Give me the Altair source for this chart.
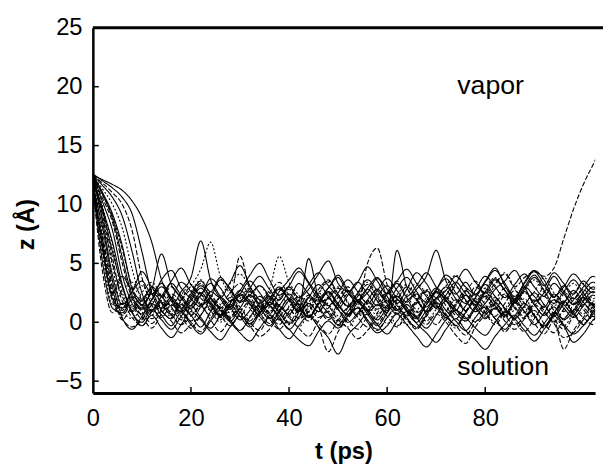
import altair as alt
import pandas as pd

# time grid (ps)
T = list(range(0, 106, 2))

# z (Å) trajectories
TRAJ = [
    [11.8, 5.0, 1.2, 0.8, 1.9, 1.2, 2.4, 1.0, 0.3, 1.5,
     0.6, -0.4, 0.9, 2.1, 1.3, 0.2, 1.0, 2.2, 1.4, 0.5,
     -0.6, 0.4, 1.6, 0.9, 2.0, 1.1, 0.0, 0.8, 1.9, 2.8,
     1.6, 0.7, 1.5, 0.4, -0.5, 0.6, 1.8, 1.0, 2.3, 1.4,
     0.3, 1.2, 0.5, 1.7, 2.6, 1.5, 0.6, 1.3, 0.2, 1.0,
     2.1, 1.4, 0.7],
    [11.5, 4.2, 0.8, 1.6, 0.4, -0.3, 0.9, 1.8, 0.6, -0.2,
     0.5, 1.4, 0.2, -0.8, 0.3, 1.1, 0.0, -0.7, 0.6, 1.5,
     0.4, -0.5, -1.2, 0.1, 0.9, -0.3, 0.5, 1.3, 0.2, -0.6,
     0.4, 1.2, 0.3, -0.4, 0.7, 1.6, 0.5, -0.3, -1.1, 0.0,
     0.8, 1.7, 0.6, -0.2, 0.4, 1.0, -0.1, -0.9, 0.2, 1.1,
     0.4, -0.2, 0.6],
    [12.0, 6.5, 2.0, 1.2, 2.5, 1.8, 3.0, 2.2, 1.4, 2.6,
     3.8, 6.9, 3.6, 2.0, 1.1, 2.3, 1.5, 0.6, 1.7, 2.8,
     1.9, 0.9, 2.1, 1.3, 0.4, 1.6, 2.7, 1.8, 1.0, 2.2,
     3.1, 2.0, 1.2, 0.5, 1.8, 2.9, 2.1, 1.1, 0.3, 1.4,
     2.5, 1.7, 0.8, 1.9, 3.0, 2.2, 1.3, 2.4, 1.5, 0.7,
     1.8, 2.6, 1.7],
    [12.2, 7.5, 2.8, 1.0, 0.3, 1.4, 2.6, 1.7, 0.9, 2.0,
     3.1, 4.5, 6.8, 3.9, 2.4, 1.3, 0.5, 1.6, 2.5, 1.4,
     0.6, -0.4, 0.8, 1.9, 1.0, 0.1, 1.2, 2.3, 1.5, 0.6,
     1.7, 0.8, -0.2, 0.9, 2.0, 1.2, 0.3, 1.5, 2.6, 1.8,
     0.9, 0.0, 1.1, 2.2, 1.3, 0.4, 1.5, 0.7, -0.3, 0.8,
     1.9, 1.0, 0.2],
    [11.0, 6.0, 1.8, 0.6, 1.5, 0.5, -0.5, 0.7, 1.8, 1.0,
     0.1, 1.3, 2.0, 1.1, 0.2, -0.7, 0.4, 1.5, 0.7, -0.2,
     0.9, 1.8, 0.8, -0.1, -1.0, 0.2, 1.2, 0.4, -0.4, 0.8,
     1.9, 1.1, 0.2, -0.6, 0.5, 1.4, 0.6, -0.3, 0.9, 2.0,
     1.2, 0.3, -0.8, 0.3, 1.3, 0.5, -0.5, 0.6, 1.7, 0.8,
     -0.1, 0.7, 1.6],
    [12.3, 8.5, 4.0, 1.5, 2.6, 3.5, 2.4, 3.3, 2.1, 1.2,
     2.4, 3.5, 2.6, 3.8, 2.7, 1.8, 2.9, 3.9, 2.8, 1.9,
     3.0, 2.1, 3.2, 4.2, 3.1, 2.2, 1.4, 2.5, 3.6, 2.7,
     1.8, 2.9, 3.8, 2.6, 1.7, 2.8, 3.7, 2.5, 1.6, 2.7,
     3.9, 3.0, 2.1, 3.2, 4.1, 3.0, 2.2, 3.3, 2.4, 1.5,
     2.6, 3.4, 2.5],
    [12.4, 9.0, 5.0, 2.2, 1.0, 2.1, 0.9, 1.9, 3.0, 2.0,
     1.1, 2.3, 1.3, 0.4, 1.6, 5.6, 2.8, 1.5, 0.7, 1.9,
     2.8, 1.6, 0.5, 1.7, 2.6, 1.5, 0.6, 1.8, 0.9, -0.1,
     1.1, 2.2, 1.3, 0.4, 1.5, 2.5, 1.4, 0.3, 1.4, 2.4,
     1.5, 0.5, 1.6, 2.7, 1.6, 0.6, -0.4, 0.7, 1.8, 0.9,
     2.0, 1.2, 0.4],
    [11.6, 8.0, 3.5, 0.4, -0.6, 0.5, 1.6, 0.6, -0.3, 0.8,
     -0.2, -1.0, 0.1, 1.0, 0.0, -0.9, -1.6, -0.5, 0.4, -0.6,
     -1.4, -0.3, 0.6, -0.4, -1.3, -2.7, -1.1, -0.2, 0.7, -0.2,
     -1.0, 0.1, 0.9, -0.1, -0.9, -1.7, -0.6, 0.3, -0.7, -1.5,
     -2.3, -1.2, -0.2, 0.6, -0.3, -1.1, -0.1, 0.8, -0.2, -1.0,
     -0.3, 0.5, -0.4],
    [12.5, 9.8, 6.5, 2.5, 1.3, 2.5, 3.4, 2.2, 1.1, 2.3,
     3.2, 2.1, 1.0, 2.2, 3.3, 4.1, 3.0, 1.9, 2.8, 5.6,
     3.4, 2.3, 1.4, 2.5, 3.5, 2.4, 1.3, 2.4, 3.4, 2.3,
     1.2, 2.3, 3.2, 2.1, 1.0, 2.0, 3.1, 4.0, 2.9, 1.8,
     2.9, 3.8, 2.7, 1.6, 2.7, 3.6, 2.5, 1.4, 2.4, 3.3,
     2.2, 1.3, 2.3],
    [12.0, 9.5, 6.0, 3.0, 0.8, 0.0, 1.1, 0.2, -0.6, 0.5,
     1.4, 0.4, -0.5, 0.6, 1.5, 0.5, -0.4, 0.7, 1.7, 0.8,
     -0.1, 0.9, 5.4, 2.0, 0.8, -0.2, 0.9, 1.8, 0.7, -0.3,
     0.8, 1.9, 0.9, 0.0, 1.0, 2.0, 1.0, 0.1, -0.7, 0.4,
     1.3, 0.3, -0.6, 0.5, 1.6, 0.6, -0.3, 0.8, 1.8, 0.7,
     -0.2, 0.9, 1.8],
    [10.8, 7.2, 3.0, 0.2, 1.2, 0.3, 1.5, 2.4, 1.3, 0.2,
     1.4, 2.5, 1.5, 0.6, 1.8, 0.8, -0.2, 1.0, 2.1, 1.1,
     0.0, 1.2, 2.3, 1.2, 0.2, 1.3, 2.4, 1.5, 5.0, 6.3,
     3.2, 1.6, 0.5, 1.6, 2.6, 1.5, 0.4, 1.6, 2.7, 1.7,
     0.7, 1.8, 2.9, 1.8, 0.8, 1.9, 1.0, 0.0, 1.1, 2.1,
     1.1, 0.2, 1.2],
    [12.5, 10.2, 7.8, 4.0, 1.6, 0.7, 1.9, 3.0, 2.0, 0.9,
     2.0, 3.1, 2.1, 1.0, 0.1, 1.2, 2.3, 1.3, 0.3, 1.4,
     2.4, 1.4, 0.4, 1.5, 2.6, 1.6, 0.6, 1.7, 2.8, 1.8,
     0.8, 6.1, 3.0, 1.9, 0.9, 2.0, 3.0, 2.0, 1.0, 2.1,
     3.2, 2.2, 1.2, 0.3, 1.4, 2.5, 1.5, 0.5, 1.6, 2.7,
     1.7, 0.8, -0.1],
    [12.3, 10.5, 8.5, 5.0, 2.0, 0.9, -0.1, 1.0, 2.1, 1.1,
     0.0, -0.8, 0.3, 1.3, 0.2, -0.7, 0.4, 1.4, 0.3, -0.6,
     0.5, 1.6, 0.6, -0.4, -2.5, -0.8, 0.3, 1.2, 0.2, -0.7,
     0.4, 1.4, 0.4, -0.5, 0.6, 1.7, 0.7, -0.3, 0.8, 1.8,
     0.8, -0.2, 0.9, 1.9, 0.9, -0.1, -1.0, 0.1, -2.3, -0.7,
     0.4, 1.3, 0.5],
    [12.5, 11.0, 9.2, 6.5, 2.8, 1.5, 2.8, 5.8, 3.2, 2.1,
     1.2, 2.3, 3.3, 2.2, 1.3, 2.4, 3.5, 2.5, 1.5, 2.6,
     3.6, 4.6, 3.4, 2.3, 1.4, 2.5, 3.6, 2.6, 1.6, 2.7,
     3.7, 2.7, 1.7, 2.8, 3.9, 6.1, 3.5, 2.4, 3.4, 2.3,
     3.4, 4.4, 3.3, 2.2, 3.3, 4.3, 3.2, 2.1, 3.1, 2.0,
     3.0, 3.9, 2.9],
    [12.4, 11.3, 10.0, 8.0, 4.5, 1.8, 0.6, 1.7, 0.7, -0.2,
     0.9, 2.0, 1.0, 0.0, 1.1, 2.2, 1.2, 0.2, 1.3, 2.3,
     1.3, 0.3, 1.4, 2.5, 1.5, 0.5, -0.4, 0.7, 1.7, 0.8,
     -0.1, 1.0, 2.0, 1.0, 0.1, 1.1, 2.1, 1.1, 0.1, 1.2,
     2.3, 1.3, 0.4, 1.5, 2.5, 1.5, 0.6, 1.6, 2.6, 1.6,
     0.7, 1.8, 0.9],
    [12.5, 11.6, 10.6, 9.0, 6.0, 2.5, 1.0, 2.2, 3.3, 2.3,
     1.4, 2.5, 1.5, 0.5, 1.6, 2.7, 1.8, 0.9, 2.0, 3.0,
     2.0, 1.0, 2.1, 3.2, 2.2, 1.2, 2.3, 3.4, 2.4, 1.4,
     2.5, 3.5, 4.5, 3.3, 2.2, 1.2, 2.3, 3.4, 2.4, 1.5,
     2.6, 3.7, 2.7, 1.7, 2.8, 3.8, 2.7, 1.6, 2.6, 3.6,
     2.5, 1.5, 2.6],
    [12.5, 11.8, 11.0, 10.0, 7.8, 3.8, 1.5, 0.4, 1.5, 0.5,
     -0.5, 0.6, 1.6, 0.6, -0.3, 0.8, 1.8, 0.8, -0.1, 1.0,
     2.0, 1.0, 0.1, 1.1, 2.1, 1.1, 0.2, -0.6, 0.5, 1.5,
     0.5, -0.4, 0.7, 1.7, 0.7, -0.2, 0.9, 1.9, 0.9, 0.0,
     1.0, 2.1, 1.1, 0.1, -0.8, 0.3, 1.3, 0.3, -0.6, 0.5,
     1.5, 0.6, -0.3],
    [12.6, 12.0, 11.4, 10.6, 9.2, 6.0, 2.5, 1.2, 2.0, 3.4,
     2.6, 1.5, 2.1, 3.6, 2.9, 1.7, 2.3, 3.1, 2.2, 1.0,
     1.9, 3.3, 2.4, 1.8, 2.9, 4.0, 2.7, 1.9, 2.5, 3.7,
     2.8, 1.6, 2.8, 4.2, 3.3, 2.1, 2.7, 3.9, 3.0, 2.4,
     3.5, 4.6, 3.1, 2.0, 3.4, 4.4, 3.6, 2.2, 3.0, 4.1,
     3.2, 2.5, 3.6],
    [12.5, 12.1, 11.7, 11.2, 10.3, 8.9, 6.8, 3.6, 1.8, 0.9,
     1.8, 2.9, 1.7, 0.6, 1.3, 2.4, 1.6, 0.5, -0.3, 0.9,
     2.0, 1.2, 0.4, 1.6, 2.5, 1.4, 0.7, 1.9, 1.1, 0.2,
     1.3, 2.2, 1.0, 0.3, 1.5, 2.6, 1.8, 0.8, 0.1, 1.2,
     2.2, 1.4, 0.6, 1.7, 0.9, -0.2, 0.8, 1.9, 1.2, 0.4,
     1.4, 2.3, 1.5],
    [11.3, 6.8, 2.5, 1.0, 2.2, 1.4, 0.3, 1.2, 2.4, 1.7,
     0.6, 1.5, 2.3, 1.1, 0.5, 1.7, 2.6, 1.9, 0.8, 0.2,
     1.3, 2.2, 1.5, 0.4, 1.2, 2.1, 3.0, 1.8, 0.9, 1.6,
     2.5, 1.4, 0.6, 1.8, 2.7, 1.5, 0.7, 1.4, 2.3, 1.2,
     0.4, 1.6, 2.4, 1.3, 0.5, 1.4, 2.2, 1.0, 0.3, 1.5,
     2.4, 1.6, 0.8],
    [12.1, 8.8, 4.8, 1.2, 2.0, 3.1, 1.9, 1.0, 2.2, 1.3,
     2.5, 3.6, 2.3, 1.5, 0.8, 2.0, 2.9, 1.8, 0.9, 2.1,
     3.0, 1.9, 1.1, 2.4, 3.4, 2.2, 1.3, 0.6, 1.7, 2.8,
     1.9, 1.0, 2.3, 3.3, 2.4, 1.2, 2.0, 3.0, 1.8, 0.9,
     1.9, 3.1, 4.2, 2.9, 1.7, 2.6, 3.8, 2.5, 1.4, 2.4,
     3.3, 2.0, 3.1],
    [11.9, 7.0, 2.2, 0.3, -0.4, 0.2, 1.4, 0.9, 0.1, -0.9,
     -0.2, 0.6, 1.8, 1.2, 0.4, 0.8, -0.3, -1.2, -0.6, 0.5,
     1.1, 0.3, 0.9, 2.0, 1.4, 0.2, -0.5, -1.4, -0.7, 0.4,
     1.5, 2.3, 1.0, 0.5, -0.2, 0.7, 0.0, -1.1, -1.8, -0.4,
     0.6, 1.2, 0.1, -0.6, 0.3, 1.5, 0.8, -0.1, -1.3, -0.9,
     0.2, 1.0, 0.4],
    [12.4, 10.8, 8.8, 5.5, 2.3, 1.1, 1.9, 3.6, 4.4, 2.9,
     2.0, 1.3, 2.6, 2.1, 3.4, 4.8, 3.1, 1.6, 2.2, 1.4,
     0.7, 1.9, 2.8, 4.1, 5.2, 3.3, 2.5, 1.7, 2.9, 3.8,
     2.2, 1.0, 1.8, 2.4, 1.3, 2.7, 4.0, 3.2, 1.9, 0.9,
     1.6, 2.8, 3.5, 4.4, 3.0, 1.8, 2.5, 3.9, 2.6, 1.5,
     2.2, 3.0, 2.0],
    [11.2, 5.6, 1.5, 2.7, 3.4, 2.0, 0.8, 1.5, 0.4, 1.9,
     3.0, 2.4, 1.0, 0.2, 1.3, 0.6, 1.9, 3.1, 2.0, 0.8,
     -0.2, 0.5, 1.6, 0.9, 2.2, 3.0, 1.7, 0.5, 1.2, 2.4,
     1.5, -0.3, 0.6, 1.9, 2.8, 1.4, 0.3, -0.5, 0.8, 2.1,
     2.9, 1.6, 0.4, 1.1, 2.0, 0.7, -0.4, 0.5, 1.6, 2.5,
     1.3, 0.6, 1.8],
    [12.3, 9.6, 6.8, 3.2, 0.9, -0.3, 0.6, -0.5, -1.3, -0.2,
     0.9, 0.2, -0.8, -1.5, -0.4, 0.5, -0.1, 0.8, 1.4, 0.3,
     -0.6, -1.5, -2.0, -0.8, 0.1, -0.5, 0.6, 1.2, 0.0, -0.9,
     -0.3, 0.7, -0.2, -1.2, -2.1, -1.0, 0.2, 1.0, 0.4, -0.5,
     -1.1, 0.0, 0.9, 0.3, -0.7, -1.6, -0.6, 0.5, -0.3, -1.7,
     -1.0, 0.2, 0.9],
    [12.5, 10.9, 9.0, 6.2, 3.0, 1.4, 2.5, 1.7, 0.6, 1.0,
     2.2, 3.3, 2.0, 1.2, 2.1, 0.9, 0.1, 1.3, 2.5, 3.4,
     2.3, 1.5, 0.4, 1.6, 2.0, 2.9, 1.6, 0.7, 1.8, 1.1,
     2.4, 3.5, 2.1, 0.8, 1.5, 2.6, 1.9, 0.6, 1.4, 3.0,
     2.2, 1.1, 2.3, 1.2, 0.3, 1.7, 2.9, 2.0, 0.9, 1.9,
     2.8, 1.5, 0.8],
    [12.0, 6.2, 2.4, 3.9, 2.8, 4.3, 3.0, 2.2, 3.5, 4.6,
     3.2, 2.4, 3.7, 2.9, 1.8, 2.7, 4.0, 5.0, 3.6, 2.3,
     3.1, 4.3, 3.3, 2.1, 2.9, 3.8, 2.6, 3.4, 4.7, 3.5,
     2.4, 3.3, 2.2, 3.1, 4.2, 3.0, 2.0, 3.3, 4.5, 3.4,
     2.5, 3.6, 2.7, 1.9, 3.0, 4.0, 3.1, 4.2, 3.3, 2.4,
     3.5, 2.8, 3.7],
    [12.2, 9.3, 5.5, 1.8, 0.9, 1.9, 2.8, 1.6, 0.7, 1.8,
     2.7, 1.5, 0.6, 1.4, 2.5, 3.3, 2.2, 1.1, 2.0, 2.9,
     1.8, 0.8, 1.7, 2.8, 3.6, 2.4, 1.3, 2.2, 3.2, 2.1,
     1.0, 1.9, 3.0, 2.0, 0.9, 1.8, 2.7, 1.7, 2.6, 3.5,
     2.4, 3.3, 4.1, 3.0, 3.8, 4.3, 3.9, 4.6, 7.1, 9.6,
     11.7, 13.4, 15.1],
]
STYLE = ["solid", "dash", "solid", "dot", "dash", "solid", "dash", "solid",
         "dot", "solid", "dash", "solid", "dash", "solid", "dot", "solid",
         "dash", "solid", "solid", "dash", "dot",
         "dash", "solid", "dot", "solid", "dash", "solid",
         "dash"]

Y_TICKS = [-5, 0, 5, 10, 15, 20, 25]
X_TICKS = [0, 20, 40, 60, 80]
Y_INNER = [-5, 0, 5, 10, 15, 20]
X_INNER = [20, 40, 60, 80]
LABELS = ["vapor", "solution"]
LABEL_T = [74.3, 74.3]
LABEL_Z = [19.4, -4.5]

rows = []
for k, (vals, sty) in enumerate(zip(TRAJ, STYLE)):
    for t, z in zip(T, vals):
        rows.append({"t": t, "z": z, "id": k, "style": sty})
df = pd.DataFrame(rows)

W, H = 509, 370
FONT = "Liberation Sans"
xs = alt.Scale(domain=[0, 102.4], nice=False, zero=False)
ys = alt.Scale(domain=[-6, 25], nice=False, zero=False)

XAX = alt.Axis(
    values=X_TICKS, title="t (ps)", ticks=False, tickSize=0, grid=False,
    domainColor="black", domainWidth=3, labelFontSize=24, labelFont=FONT,
    labelColor="black", labelBaseline="alphabetic", labelPadding=33,
    titleFont=FONT, titleFontSize=24, titleFontWeight="bold", titleColor="black",
    titleX=254, titleY=66, titleBaseline="alphabetic", titleAlign="center",
    labelFlush=False)
YAX = alt.Axis(
    values=Y_TICKS, title="z (Å)", ticks=False, tickSize=0, grid=False,
    domainColor="black", domainWidth=2.5, labelFontSize=24, labelFont=FONT,
    labelColor="black", labelPadding=11, labelFlush=False,
    titleFont=FONT, titleFontSize=24, titleFontWeight="bold", titleColor="black",
    titleX=-67, titleY=199, titleBaseline="middle", titleAlign="center",
    titleAngle=270)

lines = alt.Chart(df).mark_line(
    color="black", strokeWidth=1.1, interpolate="monotone", clip=True
).encode(
    x=alt.X("t:Q", scale=xs, axis=XAX),
    y=alt.Y("z:Q", scale=ys, axis=YAX),
    detail="id:N",
    strokeDash=alt.StrokeDash("style:N", scale=alt.Scale(
        domain=["solid", "dash", "dot"], range=[[1, 0], [5, 2], [2, 2]]), legend=None),
)

ytick_df = pd.DataFrame({"t": [0] * len(Y_INNER), "z": Y_INNER})
ytk = alt.Chart(ytick_df).mark_rule(color="black", strokeWidth=1.5).encode(
    y=alt.Y("z:Q", scale=ys, axis=YAX), x=alt.value(0), x2=alt.value(6))

xtick_df = pd.DataFrame({"t": X_INNER})
xtk = alt.Chart(xtick_df).mark_rule(color="black", strokeWidth=1.5).encode(
    x=alt.X("t:Q", scale=xs, axis=XAX), y=alt.value(H), y2=alt.value(H - 6))

top = alt.Chart(pd.DataFrame({"z": [25]})).mark_rule(color="black", strokeWidth=3).encode(
    y=alt.Y("z:Q", scale=ys, axis=YAX), x=alt.value(0), x2=alt.value(W + 10))

lab_df = pd.DataFrame({"label": LABELS, "t": LABEL_T, "z": LABEL_Z})
labels = alt.Chart(lab_df).mark_text(
    align="left", baseline="alphabetic", fontSize=27, font=FONT, color="black"
).encode(x=alt.X("t:Q", scale=xs, axis=XAX), y=alt.Y("z:Q", scale=ys, axis=YAX),
         text="label:N")

chart = alt.layer(lines, ytk, xtk, top, labels).properties(
    width=W, height=H,
    autosize=alt.AutoSizeParams(type="none"),
    padding={"left": 86, "top": 17, "right": 8, "bottom": 72},
).configure_view(stroke=None)

chart.save("out.html", embed_options={"renderer": "svg", "actions": False})
